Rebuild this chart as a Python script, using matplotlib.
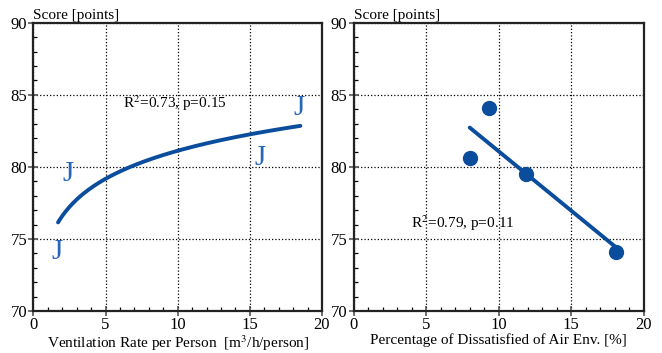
import matplotlib
matplotlib.use('Agg')
import matplotlib.pyplot as plt
from matplotlib.ticker import MultipleLocator
import numpy as np

plt.rcParams['font.family'] = ['Liberation Serif', 'DejaVu Serif']
plt.rcParams['mathtext.fontset'] = 'stix'

# data
vent_rate = [1.6, 2.4, 15.7, 18.4]        # m3/h/person
ppd_air = [18.1, 11.9, 8.0, 9.3]          # % dissatisfied
score = [74.1, 79.5, 80.6, 84.1]          # points
x_ticks = [0, 5, 10, 15, 20]
y_ticks = [70, 75, 80, 85, 90]

line_col = '#0a4d9c'
mark_col = '#2866b8'

fig = plt.figure(figsize=(6.62, 3.53), dpi=100)
ax1 = fig.add_axes([0.0506, 0.119, 0.4358, 0.8167])
ax2 = fig.add_axes([0.5343, 0.119, 0.438, 0.8167])

def style(ax, xlabel):
    ax.set_xlim(0, 20)
    ax.set_ylim(70, 90)
    ax.set_xticks(x_ticks)
    ax.set_yticks(y_ticks)
    ax.xaxis.set_minor_locator(MultipleLocator(1))
    ax.yaxis.set_minor_locator(MultipleLocator(1))
    ax.tick_params(which='major', direction='inout', length=7, width=1.2,
                   color='#555555', labelsize=12)
    ax.tick_params(axis='y', which='major', pad=1)
    ax.tick_params(axis='x', which='major', pad=1)
    ax.tick_params(which='minor', direction='in', length=3, width=0.9)
    ax.grid(True, which='major', linestyle=':', color='black', linewidth=0.9)
    for s in ax.spines.values():
        s.set_linewidth(1.6)
        s.set_color('#222222')
    ax.set_xlabel(xlabel, fontsize=11, labelpad=0)
    ax.text(0.0, 1.003, 'Score [points]', transform=ax.transAxes, fontsize=11,
            ha='left', va='bottom')

# left: logarithmic fit
b, a = np.polyfit(np.log(vent_rate), score, 1)
xs = np.linspace(1.7, 18.5, 200)
ax1.plot(xs, a + b * np.log(xs), color=line_col, linewidth=2.8, solid_capstyle='round')
for xv, yv in zip(vent_rate, score):
    ax1.text(xv, yv, 'J', color=mark_col, fontsize=21, ha='center', va='center')
ax1.text(6.2, 84.4, r'R$^2$=0.73, p=0.15', fontsize=11, ha='left', va='center')
style(ax1, r'Ventilation Rate per Person  [m$^3$/h/person]')

# right: linear fit
m, c = np.polyfit(ppd_air, score, 1)
xl = np.array([min(ppd_air), max(ppd_air)])
ax2.plot(xl, m * xl + c, color=line_col, linewidth=2.8, solid_capstyle='round')
ax2.plot(ppd_air, score, 'o', color=line_col, markersize=10, linestyle='none')
ax2.text(3.95, 76.1, r'R$^2$=0.79, p=0.11', fontsize=11, ha='left', va='center')
style(ax2, 'Percentage of Dissatisfied of Air Env. [%]')

fig.savefig('out.png', dpi=100)
